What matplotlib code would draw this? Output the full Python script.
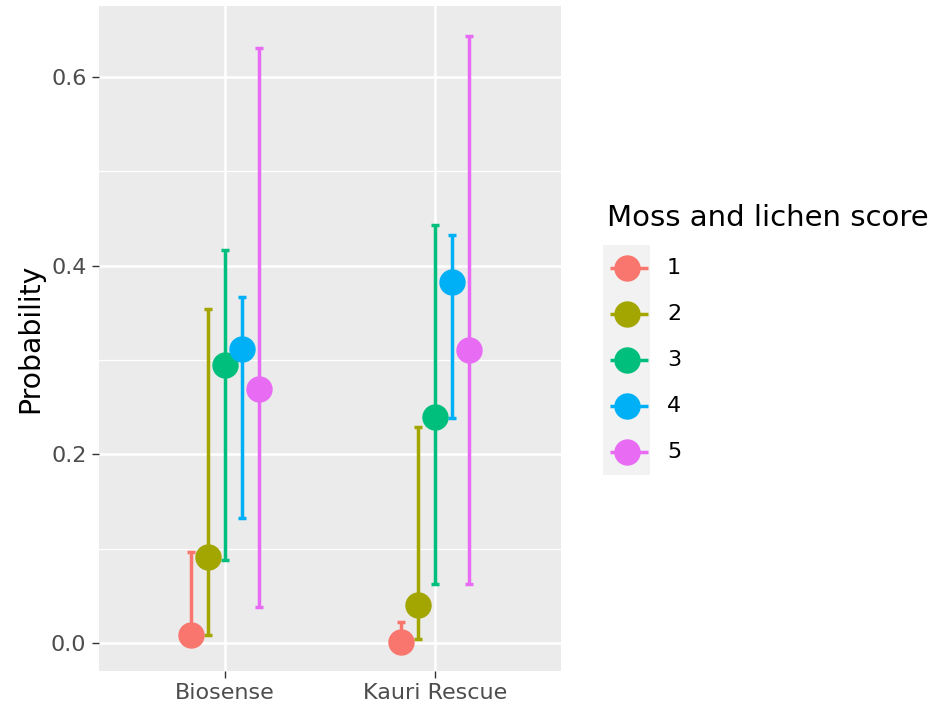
import matplotlib
matplotlib.use("Agg")
import matplotlib.pyplot as plt
import numpy as np

plt.rcParams['font.family'] = ['DejaVu Sans']

# Data: predicted probability (with interval) for each moss & lichen score
methods = ["Biosense", "Kauri Rescue"]
scores = ["1", "2", "3", "4", "5"]
colors = ["#F8766D", "#A3A500", "#00BF7D", "#00B0F6", "#E76BF3"]

prob_mid = {
    "Biosense":     [0.008, 0.091, 0.295, 0.312, 0.269],
    "Kauri Rescue": [0.001, 0.040, 0.239, 0.383, 0.311],
}
prob_low = {
    "Biosense":     [0.000, 0.009, 0.088, 0.133, 0.038],
    "Kauri Rescue": [0.000, 0.004, 0.063, 0.238, 0.063],
}
prob_high = {
    "Biosense":     [0.097, 0.354, 0.416, 0.367, 0.631],
    "Kauri Rescue": [0.022, 0.229, 0.443, 0.432, 0.643],
}

yticks = [0.0, 0.2, 0.4, 0.6]
ytick_labels = ["0.0", "0.2", "0.4", "0.6"]

W, H = 937, 715
fig = plt.figure(figsize=(W / 100, H / 100), dpi=100)
fig.patch.set_facecolor("white")

# panel placement in pixels
px_l, px_r, px_t, px_b = 99, 561, 6, 670.7
ax = fig.add_axes([px_l / W, 1 - px_b / H, (px_r - px_l) / W, (px_b - px_t) / H])
ax.set_facecolor("#EBEBEB")
for s in ax.spines.values():
    s.set_visible(False)

ax.set_xlim(0.4, 2.6)
ax.set_ylim(-0.0293, 0.675)

# grid
ax.set_yticks(yticks)
ax.set_yticklabels(ytick_labels)
ax.set_yticks([0.1, 0.3, 0.5], minor=True)
ax.set_xticks([1, 2])
ax.set_xticklabels(methods)
ax.grid(which="major", color="white", linewidth=1.8, zorder=0)
ax.grid(which="minor", axis="y", color="white", linewidth=0.9, zorder=0)
ax.set_axisbelow(True)

ax.tick_params(which="major", length=5, width=1.0, color="#333333",
               labelcolor="#4D4D4D", labelsize=16)
ax.tick_params(axis="y", pad=4)
ax.tick_params(axis="x", pad=4)
ax.tick_params(which="minor", length=0)

dodge = 0.08
offsets = (np.arange(len(scores)) - 2) * dodge

# error bars first, then points on top
for mi, m in enumerate(methods):
    for si, c in enumerate(colors):
        x = mi + 1 + offsets[si]
        mid = prob_mid[m][si]
        lo = prob_low[m][si]
        hi = prob_high[m][si]
        ax.errorbar([x], [mid], yerr=[[mid - lo], [hi - mid]], fmt="none",
                    ecolor=c, elinewidth=2.5, capsize=3.1, capthick=2.5, zorder=2)
for mi, m in enumerate(methods):
    for si, c in enumerate(colors):
        x = mi + 1 + offsets[si]
        ax.plot([x], [prob_mid[m][si]], "o", color=c, markersize=19,
                markeredgewidth=0, zorder=3)

fig.text(30 / W, 1 - ((px_t + px_b) / 2) / H, "Probability", rotation=90,
         ha="center", va="center", fontsize=20.3, color="black")

# legend
key_top, key_h = 245, 46
lax = fig.add_axes([603 / W, 1 - (key_top + key_h * 5) / H, 47 / W, key_h * 5 / H])
lax.set_facecolor("#F2F2F2")
for s in lax.spines.values():
    s.set_visible(False)
lax.set_xticks([])
lax.set_yticks([])
lax.set_xlim(0, 1)
lax.set_ylim(len(scores), 0)
for si, (lab, c) in enumerate(zip(scores, colors)):
    yy = si + 0.5
    lax.plot([0.15, 0.95], [yy, yy], color=c, linewidth=2.5, solid_capstyle="butt")
    lax.plot([0.5], [yy], "o", color=c, markersize=19, markeredgewidth=0)
    fig.text(667 / W, 1 - (key_top + key_h * yy) / H, lab, ha="left", va="center",
             fontsize=16, color="black")

fig.text(607 / W, 1 - 218 / H, "Moss and lichen score", ha="left", va="center",
         fontsize=21, color="black")

fig.savefig("out.png", dpi=100)
